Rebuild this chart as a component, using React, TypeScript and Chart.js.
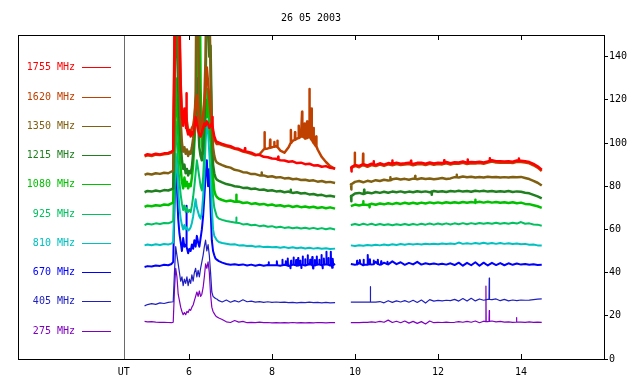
import React, { useEffect, useRef } from 'react';
import { Chart, registerables } from 'chart.js';

Chart.register(...registerables);

const TITLE = '26 05 2003';
const X_TICKS = [6, 8, 10, 12, 14];
const UT_HOUR = 4.43;
const Y_TICKS = [0, 20, 40, 60, 80, 100, 120, 140];
const FONT = '"DejaVu Sans Mono", monospace';

const HOURS = [
  4.93, 5.0, 5.1, 5.2, 5.3, 5.4, 5.5, 5.58,
  5.62, 5.65, 5.68, 5.71, 5.74, 5.77, 5.8, 5.83, 5.86, 5.89, 5.92, 5.95,
  5.98, 6.01, 6.04, 6.07, 6.1, 6.13, 6.16, 6.19, 6.22, 6.25, 6.28, 6.31,
  6.34, 6.37, 6.4, 6.43, 6.46, 6.49, 6.52, 6.55, 6.58, 6.61, 6.64, 6.67,
  6.72, 6.8, 6.9, 7.0, 7.1, 7.2, 7.3, 7.4, 7.5, 7.6, 7.7, 7.8, 7.9, 8.0, 8.1,
  8.2, 8.3, 8.4, 8.5, 8.6, 8.7, 8.8, 8.9, 9.0, 9.1, 9.2, 9.3, 9.4, 9.52,
  9.7,
  9.9, 10.0, 10.1, 10.2, 10.3, 10.4, 10.5, 10.6, 10.7, 10.8,
  10.9, 11.0, 11.1, 11.2, 11.3, 11.4, 11.5, 11.6, 11.7, 11.8,
  11.9, 12.0, 12.1, 12.2, 12.3, 12.4, 12.5, 12.6, 12.7, 12.8,
  12.9, 13.0, 13.1, 13.2, 13.3, 13.4, 13.5, 13.6, 13.7, 13.8,
  13.9, 14.0, 14.1, 14.2, 14.3, 14.4, 14.5,
];

const LABELS = ['1755 MHz', '1620 MHz', '1350 MHz', '1215 MHz', '1080 MHz', '925 MHz', '810 MHz', '670 MHz', '405 MHz', '275 MHz'];
const COLORS = ['#ff0000', '#c04000', '#806010', '#208020', '#00c000', '#00c060', '#00c0c0', '#0000ff', '#2020c0', '#8000c0'];

const f1755 = [
  94.3, 94.8, 94.5, 95.0, 94.7, 95.2, 95.4, 96.0,
  96.5, 140, 200, 200, 190, 160, 125, 112, 108, 116, 112, 107,
  104, 106, 103, 105, 104, 107, 112, 109, 106, 104, 103, 105,
  107, 109, 108, 110, 109, 107, 108, 109, 106, 103, 101.5, 100.5,
  100.2, 99.6, 99.0, 98.5, 97.6, 97.3, 96.4, 96.0, 95.5, 94.6, 94.5, 93.6, 93.4, 92.8, 92.7,
  92.0, 91.9, 91.3, 91.5, 90.7, 90.9, 90.2, 90.4, 89.6, 89.7, 89.0, 89.3, 88.5, 88.2,
  null,
  88.8, 89.8, 89.4, 90.2, 89.6, 90.4, 89.9, 90.6, 90.0, 90.7,
  90.3, 90.9, 90.4, 90.6, 90.9, 90.3, 90.8, 90.9, 90.4, 91.0,
  90.5, 90.9, 90.7, 91.2, 90.6, 91.1, 91.0, 91.4, 90.9, 91.2,
  91.1, 91.3, 91.0, 91.5, 92.0, 91.6, 91.5, 91.4, 91.6, 91.3,
  91.9, 91.8, 91.6, 91.2, 90.3, 89.2, 87.6,
];

const f1620 = [
  93.8, 94.3, 94.0, 94.6, 94.4, 94.8, 95.0, 95.6,
  96, 150, 200, 200, 180, 150, 128, 113, 110, 112, 115, 110,
  106, 104, 105, 107, 108, 112, 118, 122, 114, 108, 106, 109,
  113, 118, 126, 135, 128, 120, 114, 109, 105, 102, 100.5, 99.5,
  99.6, 99.1, 98.5, 98.0, 97.3, 96.8, 96.0, 95.6, 95.0, 94.3, 94.8, 97.0, 97.5, 98.0, 98.5,
  96.5, 95.5, 98.0, 101, 102, 103, 102, 103, 100, 97, 93.5, 91.2, 89.3, 88.0,
  null,
  88.2, 89.2, 88.8, 89.6, 89.0, 89.8, 89.3, 90.0, 89.4, 90.1,
  89.7, 90.3, 89.8, 90.0, 90.3, 89.7, 90.2, 90.3, 89.8, 90.4,
  89.9, 90.3, 90.1, 90.6, 90.0, 90.5, 90.4, 90.8, 90.3, 90.6,
  90.5, 90.7, 90.4, 90.9, 91.4, 91.0, 90.9, 90.8, 91.0, 90.7,
  91.3, 91.2, 91.0, 90.6, 89.7, 88.6, 87.0,
];

const f1350 = [
  85.2, 85.8, 85.4, 86.0, 85.7, 86.2, 86.0, 86.8,
  87, 130, 200, 170, 140, 125, 110, 100, 96, 98, 95, 97,
  94, 96, 95, 98, 102, 110, 122, 200, 160, 120, 108, 104,
  110, 120, 140, 200, 200, 170, 130, 110, 98, 94, 92, 91,
  90.5, 89.8, 89.0, 88.6, 87.6, 87.2, 86.5, 86.3, 85.6, 85.6, 85.0, 85.0, 84.4, 84.6, 84.0,
  84.2, 83.6, 83.8, 83.2, 83.4, 82.9, 83.0, 82.5, 82.7, 82.1, 82.4, 81.8, 82.0, 81.5,
  null,
  80.5, 82.0, 82.4, 81.8, 82.5, 82.1, 82.8, 82.4, 83.0, 82.6,
  83.2, 83.6, 83.1, 83.4, 83.0, 83.5, 83.2, 83.7, 83.3, 83.6,
  83.2, 83.5, 83.8, 83.3, 83.6, 84.2, 84.0, 84.5, 84.1, 84.4,
  84.0, 84.3, 84.0, 84.4, 84.1, 84.3, 84.0, 84.2, 84.0, 84.3,
  84.1, 84.3, 83.8, 83.3, 82.5, 81.6, 80.3,
];

const f1215 = [
  77.2, 77.8, 77.5, 78.0, 77.6, 78.2, 78.0, 78.6,
  79, 120, 170, 150, 125, 110, 100, 92, 88, 90, 86, 88,
  85, 87, 86, 89, 95, 105, 118, 130, 110, 98, 94, 92,
  98, 108, 125, 170, 160, 140, 145, 110, 90, 86, 84, 83,
  82.5, 81.8, 81.0, 80.6, 80.0, 79.8, 79.2, 79.3, 78.7, 78.9, 78.3, 78.5, 77.9, 78.1, 77.6,
  77.8, 77.2, 77.5, 76.9, 77.2, 76.6, 76.8, 76.2, 76.4, 75.8, 76.0, 75.4, 75.6, 75.1,
  null,
  75.0, 76.6, 76.9, 76.4, 77.1, 76.7, 77.3, 76.9, 77.4, 77.0,
  77.5, 77.2, 77.6, 77.1, 77.5, 77.2, 77.7, 77.3, 77.6, 77.2,
  77.8, 77.4, 77.7, 77.3, 77.8, 77.5, 77.9, 77.5, 77.8, 77.4,
  77.9, 77.6, 77.9, 77.5, 77.8, 77.4, 77.7, 77.4, 77.8, 77.3,
  77.6, 77.4, 77.0, 76.7, 76.0, 75.3, 74.4,
];

const f1080 = [
  70.4, 71.0, 70.7, 71.2, 70.9, 71.5, 71.3, 72.0,
  72.5, 100, 130, 118, 105, 95, 88, 82, 79, 84, 80, 82,
  79, 81, 80, 84, 90, 100, 112, 130, 200, 200, 125, 100,
  95, 105, 119, 112, 125, 118, 105, 95, 84, 78, 76, 75,
  74.2, 73.6, 73.0, 73.4, 72.8, 72.9, 72.2, 72.5, 71.8, 72.1, 71.5, 71.8, 71.2, 71.5, 70.9,
  71.2, 70.6, 71.0, 70.4, 70.8, 70.3, 70.6, 70.1, 70.5, 69.9, 70.3, 69.8, 70.2, 69.6,
  null,
  70.8, 71.5, 71.1, 71.7, 71.3, 71.9, 71.4, 72.0, 71.6, 72.1,
  71.7, 72.2, 71.8, 72.3, 71.9, 72.3, 71.9, 72.4, 72.0, 72.5,
  72.1, 72.5, 72.1, 72.6, 72.2, 72.6, 72.2, 72.7, 72.3, 72.7,
  72.3, 72.8, 72.4, 72.8, 72.4, 72.7, 72.3, 72.6, 72.2, 72.6,
  72.1, 72.4, 71.8, 71.7, 71.2, 70.7, 70.0,
];

const f925 = [
  62.0, 62.6, 62.3, 62.8, 62.5, 63.0, 62.8, 63.4,
  64, 90, 110, 100, 90, 82, 76, 72, 69, 71, 68, 70,
  68, 69, 68, 71, 75, 80, 86, 92, 88, 84, 80, 78,
  84, 95, 110, 120, 115, 105, 100, 88, 75, 70, 68, 66,
  65.0, 64.4, 63.9, 63.5, 63.2, 63.0, 62.3, 62.5, 61.9, 62.1, 61.5, 61.8, 61.2, 61.5, 60.9,
  61.2, 60.7, 61.0, 60.5, 60.9, 60.4, 60.8, 60.3, 60.7, 60.2, 60.6, 60.1, 60.5, 60.0,
  null,
  62.0, 62.5, 62.0, 62.6, 62.1, 62.6, 62.0, 62.5, 62.0, 62.4,
  61.9, 62.4, 62.0, 62.5, 62.0, 62.5, 62.1, 62.6, 62.2, 62.7,
  62.2, 62.7, 62.3, 62.8, 62.3, 62.8, 62.4, 62.9, 62.4, 62.9,
  62.5, 63.0, 62.6, 63.0, 62.6, 63.1, 62.6, 63.0, 62.6, 63.1,
  62.7, 63.4, 62.6, 62.8, 62.3, 62.2, 61.7,
];

const f810 = [
  52.6, 53.0, 52.7, 53.1, 52.8, 53.2, 53.0, 53.4,
  54, 75, 95, 88, 78, 70, 65, 62, 60, 62, 60, 61,
  59.5, 60, 61, 63, 66, 70, 74, 70, 68, 66, 65, 68,
  75, 85, 100, 110, 105, 95, 85, 70, 60, 57, 56, 55,
  54.2, 53.7, 53.4, 53.0, 53.1, 52.6, 52.7, 52.3, 52.4, 52.0, 52.2, 51.8, 52.0, 51.7, 51.9,
  51.5, 51.8, 51.4, 51.7, 51.3, 51.6, 51.2, 51.5, 51.1, 51.4, 51.0, 51.3, 50.9, 51.1,
  null,
  52.6, 52.3, 52.7, 52.4, 52.8, 52.5, 52.9, 52.6, 53.0, 52.7,
  53.1, 52.8, 53.2, 52.9, 53.3, 53.0, 53.3, 53.0, 53.4, 53.1,
  53.4, 53.1, 53.5, 53.2, 53.5, 53.2, 53.9, 53.3, 53.6, 53.3,
  53.7, 53.4, 53.8, 53.4, 53.7, 53.3, 53.7, 53.3, 53.6, 53.2,
  53.5, 53.1, 53.3, 52.9, 53.0, 52.6, 52.5,
];

const f670 = [
  42.6, 43.0, 42.8, 43.3, 43.1, 43.6, 43.4, 44.0,
  45, 70, 91, 80, 65, 58, 54, 50, 56, 52, 53, 52,
  49, 51, 50, 53, 51, 55, 52, 57, 54, 52, 56, 60,
  66, 75, 85, 92, 80, 88, 70, 55, 50, 48, 46.5, 46,
  45.3, 44.6, 44.0, 43.6, 43.9, 43.5, 43.8, 43.3, 43.7, 43.2, 43.6, 43.2, 43.5, 43.4, 43.4,
  43.2, 43.6, 43.1, 43.7, 43.2, 43.8, 43.3, 43.9, 43.2, 43.8, 43.4, 43.9, 43.3, 44.0,
  null,
  44.0, 43.6, 44.5, 43.4, 43.6, 43.8, 45.0, 43.6, 44.6, 43.8,
  45.2, 43.9, 44.8, 43.6, 44.5, 43.8, 45.0, 43.7, 44.3, 43.9,
  44.2, 43.8, 44.1, 43.7, 44.3, 43.5, 44.6, 43.2, 44.5, 43.4,
  44.8, 43.2, 44.6, 43.3, 44.5, 43.5, 44.4, 43.4, 44.3, 43.6,
  44.2, 43.7, 44.0, 43.6, 43.9, 43.5, 43.6,
];

const f405 = [
  24.6, 25.2, 25.6, 25.3, 26.0, 25.7, 26.2, 26.4,
  26.5, 40, 52, 48, 44, 40, 36, 38, 34, 37, 35, 38,
  34, 37, 35, 39, 36, 40, 42, 38, 41, 38, 42, 45,
  48, 52, 55, 50, 53, 48, 40, 31, 29, 28.5, 28, 27.8,
  27.0, 26.4, 27.3, 26.3, 27.0, 26.4, 27.4, 26.5, 26.8, 26.3, 26.6, 26.2, 26.5, 26.2, 26.4,
  26.2, 26.3, 26.1, 26.2, 26.0, 26.2, 26.1, 26.3, 26.1, 26.2, 26.0, 26.2, 26.0, 26.1,
  null,
  26.3, 26.3, 26.3, 26.3, 26.3, 26.3, 26.3, 26.6, 26.0, 27.0,
  26.2, 26.9, 26.4, 27.0, 26.3, 27.2, 26.2, 27.3, 25.9, 27.5,
  26.8, 27.1, 26.9, 27.2, 27.0, 27.6, 26.8, 28.0, 26.8, 28.1,
  26.9, 27.8, 27.2, 27.6, 27.5, 27.8, 27.0, 27.6, 26.9, 27.3,
  27.0, 27.3, 27.2, 27.3, 27.5, 27.7, 27.8,
];

const f275 = [
  17.4, 17.2, 17.3, 17.1, 17.0, 17.0, 16.9, 16.8,
  17, 32, 42, 38, 30, 27, 24, 22, 20.5, 21.5, 20.5, 22,
  21.5, 23, 22.5, 24, 25, 27, 29, 31, 29, 31.5, 29, 30,
  33, 38, 44, 42, 45, 40, 30, 24, 22, 21, 20, 19.5,
  19.0, 18.3, 17.2, 16.9, 17.8, 17.1, 17.4, 16.8, 17.0, 16.8, 17.1, 16.8, 16.9, 16.7, 16.8,
  16.7, 16.8, 16.7, 16.9, 16.7, 16.8, 16.7, 16.8, 16.7, 16.9, 16.8, 16.7, 16.8, 16.8,
  null,
  16.8, 16.8, 16.8, 17.0, 17.0, 17.2, 17.0, 17.4, 17.0, 18.0,
  16.9, 17.5, 16.8, 17.6, 16.6, 17.4, 16.5, 17.3, 16.2, 17.6,
  16.8, 17.0, 16.9, 17.1, 16.9, 17.0, 17.3, 17.0, 17.4, 17.0,
  17.6, 16.8, 17.5, 17.3, 17.6, 17.2, 17.4, 17.1, 17.2, 17.0,
  17.1, 17.1, 17.0, 17.2, 17.0, 17.1, 17.0,
];

// narrow spikes: [hour, level beside the spike, spike value]
const S1755 = [
  [5.935, 107, 123], [6.565, 108, 112], [7.35, 96.2, 97.6], [8.15, 92.3, 93.6],
  [9.915, 88.9, 86.8], [10.45, 90.1, 91.6], [10.9, 90.4, 91.9], [11.35, 90.6, 91.8],
  [12.15, 90.8, 92.0], [12.72, 91.0, 92.4], [13.25, 91.7, 92.9], [13.95, 91.8, 92.8],
];
const S1620 = [
  [7.82, 97.2, 105], [7.955, 97.8, 101.5], [8.055, 98.3, 100.5], [8.13, 98.2, 101],
  [8.455, 100, 106], [8.555, 101.5, 105], [8.645, 102.3, 108], [8.725, 103, 114.5],
  [8.785, 102.5, 109], [8.845, 102.3, 110], [8.905, 103, 125], [8.955, 101.5, 116],
  [9.005, 100, 107], [9.065, 98.5, 103], [9.995, 89.4, 95.5], [10.195, 89.8, 95],
];
const S1350 = [[9.91, 80.9, 78.5], [10.85, 82.7, 84.2], [11.45, 83.4, 84.7], [12.45, 84.1, 85.3], [7.75, 85.0, 86.4]];
const S1215 = [[9.91, 75.4, 73.0], [10.22, 76.5, 78.3], [11.85, 77.4, 76.0], [8.45, 77.2, 78.4]];
const S1080 = [[7.14, 72.8, 76.0], [10.2, 71.5, 73.0], [10.35, 71.5, 70.2], [12.9, 72.4, 73.7]];
const S925 = [[7.14, 63.1, 65.5]];
const S810: number[][] = [];
const S670 = [
  [5.935, 52.5, 71], [7.92, 43.4, 44.8], [8.12, 43.4, 45.2], [8.25, 43.4, 46.0], [8.33, 43.5, 45.2],
  [8.38, 43.2, 46.5], [8.44, 43.3, 42.0], [8.46, 43.4, 45.5], [8.52, 43.6, 47.0], [8.58, 43.4, 45.8],
  [8.63, 43.3, 46.8], [8.68, 43.6, 45.5], [8.71, 43.7, 42.1], [8.74, 43.6, 47.5], [8.8, 43.3, 46.2],
  [8.86, 43.6, 48.0], [8.92, 43.8, 46.0], [8.97, 43.5, 47.2], [8.99, 43.4, 41.9], [9.03, 43.3, 45.8],
  [9.08, 43.6, 47.5], [9.14, 43.7, 45.9], [9.19, 43.5, 48.2], [9.22, 43.5, 42.0], [9.25, 43.6, 46.5],
  [9.31, 43.8, 49.7], [9.36, 43.6, 46.8], [9.42, 43.3, 49.7], [9.45, 43.4, 42.2], [9.47, 43.5, 46.4],
  [10.05, 43.8, 45.5], [10.12, 44.2, 45.8], [10.21, 43.7, 46.0], [10.31, 43.8, 48.2], [10.36, 43.9, 46.2],
  [10.45, 43.9, 45.6], [10.55, 44.0, 46.0], [10.63, 43.8, 45.2], [10.78, 43.9, 45.0],
];
const S405 = [[10.37, 26.3, 33.5], [13.235, 27.6, 37.4]];
const S275 = [[13.155, 17.3, 33.8], [13.235, 17.4, 22.4], [13.89, 17.1, 19.2]];

const SERIES = [f1755, f1620, f1350, f1215, f1080, f925, f810, f670, f405, f275];
const SPIKES = [S1755, S1620, S1350, S1215, S1080, S925, S810, S670, S405, S275];
const WIDTHS = [2.5, 2.5, 2.5, 2.5, 2.5, 2, 2, 2, 1.2, 1.2];
const SPIKE_HALF = 0.006;

const decorPlugin = {
  id: 'decor',
  afterDraw(chart: any) {
    const { ctx, chartArea: a, scales } = chart;
    const x = scales.x;
    ctx.save();
    ctx.lineWidth = 1;
    const ux = Math.round(x.getPixelForValue(UT_HOUR)) + 0.5;
    ctx.strokeStyle = '#6a6a6a';
    ctx.beginPath();
    ctx.moveTo(ux, a.top);
    ctx.lineTo(ux, a.bottom);
    ctx.stroke();
    ctx.strokeStyle = '#000';
    ctx.strokeRect(Math.round(a.left) + 0.5, Math.round(a.top) + 0.5, Math.round(a.right - a.left), Math.round(a.bottom - a.top));
    ctx.beginPath();
    for (const v of X_TICKS) {
      const px = Math.round(x.getPixelForValue(v)) + 0.5;
      ctx.moveTo(px, a.top);
      ctx.lineTo(px, a.top + 5);
      ctx.moveTo(px, a.bottom);
      ctx.lineTo(px, a.bottom - 5);
    }
    ctx.stroke();
    ctx.font = `10px ${FONT}`;
    ctx.fillStyle = '#000';
    ctx.textAlign = 'center';
    ctx.textBaseline = 'middle';
    ctx.fillText(TITLE, (a.left + a.right) / 2, 18);
    ctx.textAlign = 'right';
    LABELS.forEach((lab, k) => {
      const yy = Math.round(67.3 + k * 29.25);
      ctx.fillStyle = COLORS[k];
      ctx.fillText(lab, 75, yy);
      ctx.strokeStyle = COLORS[k];
      ctx.beginPath();
      ctx.moveTo(82, yy + 0.5);
      ctx.lineTo(111, yy + 0.5);
      ctx.stroke();
    });
    ctx.restore();
  },
};

export default function App() {
  const ref = useRef<HTMLCanvasElement>(null);
  useEffect(() => {
    if (!ref.current) return;
    const datasets = SERIES.map((vals, k) => {
      const pts: { x: number; y: number | null }[] = HOURS.map((h, i) => ({ x: h, y: vals[i] as number | null }));
      for (const [h, base, peak] of SPIKES[k]) {
        pts.push({ x: h - SPIKE_HALF, y: base }, { x: h, y: peak }, { x: h + SPIKE_HALF, y: base });
      }
      pts.sort((p, q) => p.x - q.x);
      return {
        label: LABELS[k],
        data: pts,
        borderColor: COLORS[k],
        backgroundColor: COLORS[k],
        borderWidth: WIDTHS[k],
        borderJoinStyle: 'round' as const,
        pointRadius: 0,
        tension: 0,
        spanGaps: false,
        clip: 0,
      };
    });
    const chart = new Chart(ref.current, {
      type: 'line',
      data: { datasets },
      plugins: [decorPlugin],
      options: {
        animation: false,
        responsive: false,
        devicePixelRatio: 1,
        parsing: false,
        layout: { padding: { left: 18, top: 35, right: 0, bottom: 0 } },
        plugins: { legend: { display: false }, title: { display: false }, tooltip: { enabled: false } },
        scales: {
          x: {
            type: 'linear',
            min: 1.88,
            max: 16,
            afterBuildTicks: (s: any) => {
              s.ticks = [UT_HOUR, ...X_TICKS].map((v) => ({ value: v }));
            },
            afterFit: (s: any) => {
              s.height = 25;
            },
            grid: { display: false, drawTicks: false },
            border: { display: false },
            ticks: {
              autoSkip: false,
              maxRotation: 0,
              padding: 7,
              color: '#000',
              font: { family: FONT, size: 10 },
              callback: (v: any) => (Math.abs(v - UT_HOUR) < 0.01 ? 'UT' : String(v)),
            },
          },
          y: {
            type: 'linear',
            position: 'right',
            min: 0,
            max: 150,
            afterBuildTicks: (s: any) => {
              s.ticks = Y_TICKS.map((v) => ({ value: v }));
            },
            afterFit: (s: any) => {
              s.width = 36;
            },
            grid: { drawOnChartArea: false, drawTicks: true, tickLength: 4, color: '#000' },
            border: { display: true, color: '#000' },
            ticks: {
              padding: 1,
              color: '#000',
              font: { family: FONT, size: 10 },
            },
          },
        },
      },
    });
    return () => chart.destroy();
  }, []);
  return (
    <div style={{ position: 'fixed', left: 0, top: 0, width: 640, height: 384, background: '#fff' }}>
      <canvas ref={ref} width={640} height={384} style={{ display: 'block', width: 640, height: 384 }} />
    </div>
  );
}
